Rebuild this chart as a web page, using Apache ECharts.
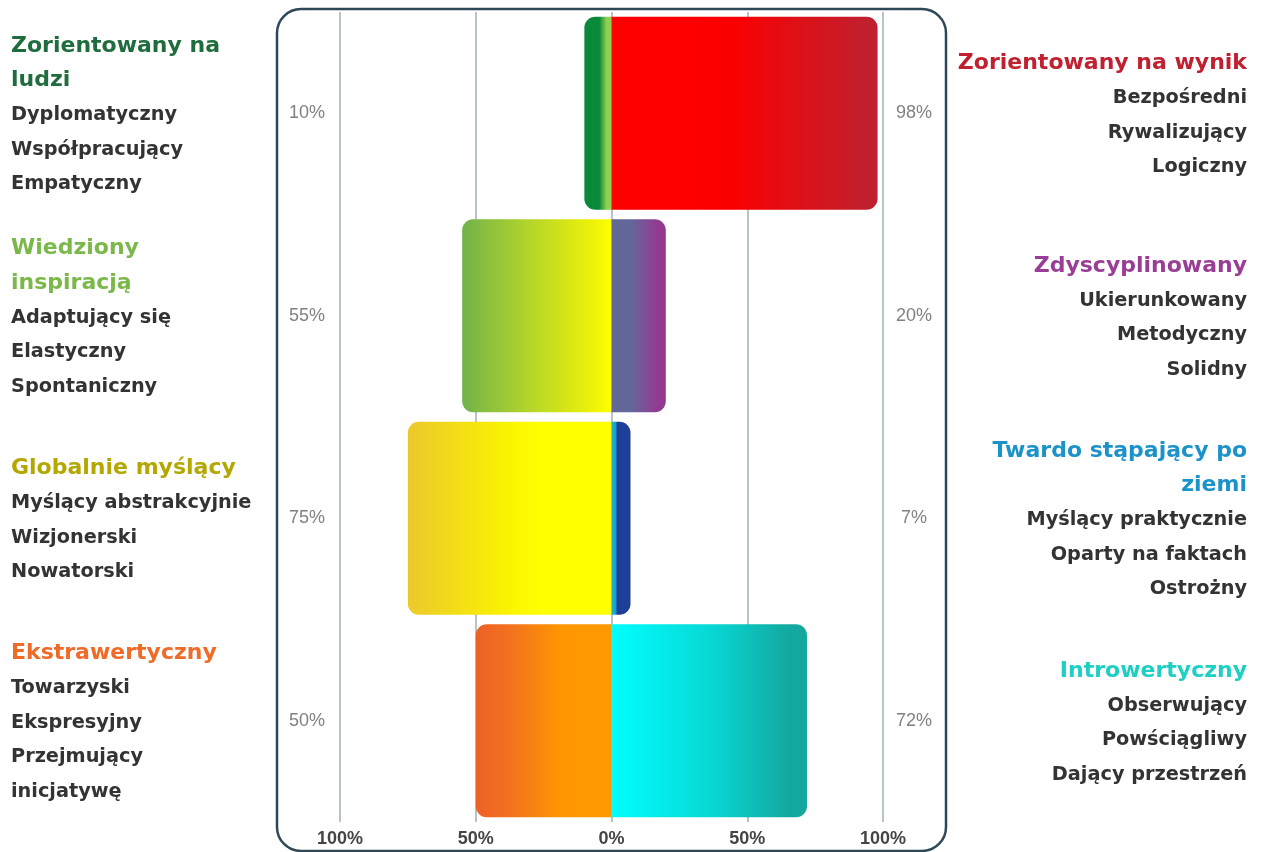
<!DOCTYPE html>
<html>
<head>
<meta charset="utf-8">
<script src="https://cdn.jsdelivr.net/npm/echarts@6/dist/echarts.min.js"></script>
<style>
  html, body { margin: 0; padding: 0; background: #ffffff; }
  #chart { width: 1261px; height: 852px; }
</style>
</head>
<body>
<div id="chart"></div>
<script>
// ---- data ----
var rows = ['r1', 'r2', 'r3', 'r4'];
var leftTitles = [['Zorientowany na', 'ludzi'], ['Wiedziony', 'inspiracją'], ['Globalnie myślący'], ['Ekstrawertyczny']];
var leftTraits = [
  ['Dyplomatyczny', 'Współpracujący', 'Empatyczny'],
  ['Adaptujący się', 'Elastyczny', 'Spontaniczny'],
  ['Myślący abstrakcyjnie', 'Wizjonerski', 'Nowatorski'],
  ['Towarzyski', 'Ekspresyjny', 'Przejmujący', 'inicjatywę']
];
var rightTitles = [['Zorientowany na wynik'], ['Zdyscyplinowany'], ['Twardo stąpający po', 'ziemi'], ['Introwertyczny']];
var rightTraits = [
  ['Bezpośredni', 'Rywalizujący', 'Logiczny'],
  ['Ukierunkowany', 'Metodyczny', 'Solidny'],
  ['Myślący praktycznie', 'Oparty na faktach', 'Ostrożny'],
  ['Obserwujący', 'Powściągliwy', 'Dający przestrzeń']
];
var leftValues = [10, 55, 75, 50];
var rightValues = [98, 20, 7, 72];

// ---- styles ----
var leftTitleColors = ['#1f6d3d', '#7bb84a', '#b3a700', '#f06a28'];
var rightTitleColors = ['#c0202f', '#9a3d96', '#1b92c8', '#1ecfc3'];
var leftGradients = [
  [[0, '#0b893b'], [0.55, '#0b893b'], [0.82, '#8fd14f'], [1, '#8fd14f']],
  [[0, '#72b24a'], [0.45, '#b4d52a'], [0.85, '#eaf00a'], [1, '#ffff00']],
  [[0, '#ebc92c'], [0.5, '#fbf400'], [0.65, '#ffff00'], [1, '#ffff00']],
  [[0, '#ee6226'], [0.2, '#f16d22'], [0.65, '#ff9800'], [1, '#ff9900']]
];
var rightGradients = [
  [[0, '#ff0000'], [0.45, '#fb0000'], [1, '#bc2232']],
  [[0, '#646899'], [0.35, '#646899'], [0.85, '#923a92'], [1, '#923a92']],
  [[0, '#1fb4d8'], [0.2, '#1fa0cc'], [0.32, '#1e4098'], [1, '#1e3f98']],
  [[0, '#00ffff'], [0.5, '#07d9d6'], [0.9, '#13a9a0'], [1, '#14a69c']]
];

function grad(stops) {
  return new echarts.graphic.LinearGradient(0, 0, 1, 0,
    stops.map(function (s) { return { offset: s[0], color: s[1] }; }));
}

var labelFont = '"DejaVu Sans", sans-serif';
var numFont = '"Liberation Sans", sans-serif';
var titleSize = 22, traitSize = 19.3, lineH = 34.5;

var leftRich = { s: { fontFamily: labelFont, fontWeight: 'bold', fontSize: traitSize, lineHeight: lineH, color: '#333333', align: 'left' } };
var rightRich = { s: { fontFamily: labelFont, fontWeight: 'bold', fontSize: traitSize, lineHeight: lineH, color: '#333333', align: 'right' } };
rows.forEach(function (r, i) {
  leftRich['t' + i] = { fontFamily: labelFont, fontWeight: 'bold', fontSize: titleSize, lineHeight: lineH, color: leftTitleColors[i], align: 'left' };
  rightRich['t' + i] = { fontFamily: labelFont, fontWeight: 'bold', fontSize: titleSize, lineHeight: lineH, color: rightTitleColors[i], align: 'right' };
});

function blockIdx(titles, traits, i) {
  var lines = titles.map(function (t) { return '{t' + i + '|' + t + '}'; })
    .concat(traits.map(function (t) { return '{s|' + t + '}'; }));
  return lines.join('\n');
}

var chart = echarts.init(document.getElementById('chart'), null, { renderer: 'canvas' });

var option = {
  animation: false,
  grid: { left: 340, right: 378, top: 12, height: 810, containLabel: false },
  xAxis: {
    type: 'value', min: -100, max: 100, interval: 50,
    axisLine: { show: false }, axisTick: { show: false },
    splitLine: { show: true, lineStyle: { color: '#b7c3c9', width: 2 } },
    axisLabel: {
      margin: 8,
      fontFamily: numFont, fontWeight: 'bold', fontSize: 18, color: '#454545',
      formatter: function (v) { return Math.abs(v) + '%'; }
    }
  },
  yAxis: [
    {
      type: 'category', data: rows, inverse: true, position: 'left',
      axisLine: { show: false }, axisTick: { show: false },
      axisLabel: {
        align: 'left', margin: 329, verticalAlign: 'middle', padding: [4, 0, 0, 0],
        formatter: function (v, i) { return blockIdx(leftTitles[i], leftTraits[i], i); },
        rich: leftRich
      }
    },
    {
      type: 'category', data: rows, inverse: true, position: 'right',
      axisLine: { show: false }, axisTick: { show: false },
      axisLabel: {
        align: 'right', margin: 364, verticalAlign: 'middle', padding: [4, 0, 0, 0],
        formatter: function (v, i) { return blockIdx(rightTitles[i], rightTraits[i], i); },
        rich: rightRich
      }
    },
    {
      type: 'category', data: rows, inverse: true, position: 'left',
      axisLine: { show: false }, axisTick: { show: false },
      axisLabel: {
        align: 'center', margin: 33, padding: [5, 0, 0, 0],
        fontFamily: numFont, fontSize: 18, color: '#808080',
        formatter: function (v, i) { return leftValues[i] + '%'; }
      }
    },
    {
      type: 'category', data: rows, inverse: true, position: 'right',
      axisLine: { show: false }, axisTick: { show: false },
      axisLabel: {
        align: 'center', margin: 31, padding: [5, 0, 0, 0],
        fontFamily: numFont, fontSize: 18, color: '#808080',
        formatter: function (v, i) { return rightValues[i] + '%'; }
      }
    }
  ],
  graphic: [
    {
      type: 'rect', z: -10, silent: true,
      shape: { x: 277, y: 9, width: 669, height: 842, r: 24 },
      style: { fill: 'none', stroke: '#2f4858', lineWidth: 2.5 }
    }
  ],
  series: [
    {
      type: 'bar', stack: 'total', yAxisIndex: 0, barWidth: 193,
      data: leftValues.map(function (v, i) {
        return { value: -v, itemStyle: { color: grad(leftGradients[i]), borderRadius: [11, 0, 0, 11] } };
      })
    },
    {
      type: 'bar', stack: 'total', yAxisIndex: 0, barWidth: 193,
      data: rightValues.map(function (v, i) {
        return { value: v, itemStyle: { color: grad(rightGradients[i]), borderRadius: [0, 11, 11, 0] } };
      })
    }
  ]
};

chart.setOption(option);
</script>
</body>
</html>
